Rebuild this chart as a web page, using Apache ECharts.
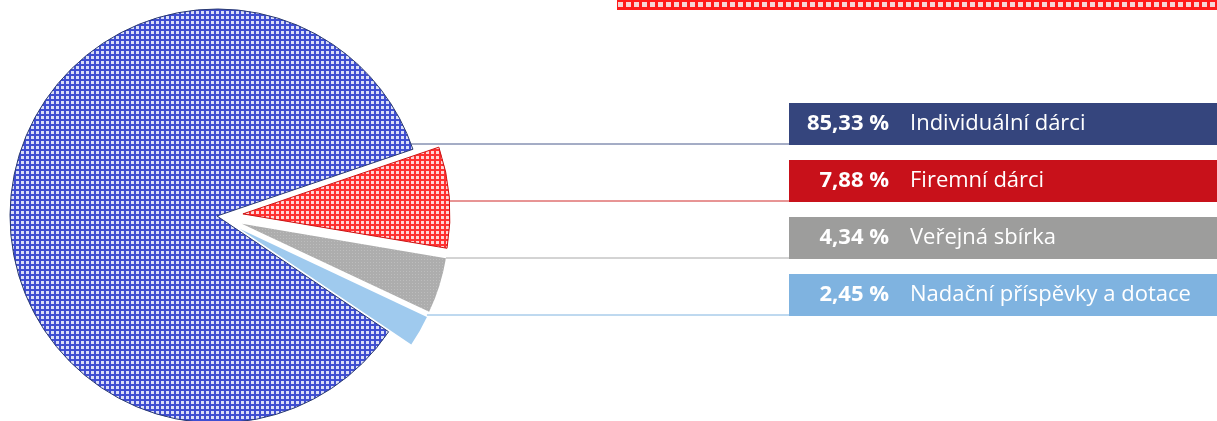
<!DOCTYPE html>
<html>
<head>
<meta charset="utf-8">
<style>
  html, body { margin: 0; padding: 0; background: #fff; }
  #chart { width: 1217px; height: 421px; }
</style>
<script src="https://cdn.jsdelivr.net/npm/echarts@6/dist/echarts.min.js"></script>
</head>
<body>
<div id="chart"></div>
<script>
// data
const categories = ['Individuální dárci', 'Firemní dárci', 'Veřejná sbírka', 'Nadační příspěvky a dotace'];
const values = [85.33, 7.88, 4.34, 2.45];
const exploded = [false, true, true, true];

// colours
const boxColors = ['#35457d', '#c8111a', '#9d9d9c', '#7fb3e0'];
const lineColors = ['#4a5a8c', '#d02a2a', '#a8a8a8', '#7fb3e0'];
const borderColors = ['#2a3a70', '#cc1111', 'transparent', 'transparent'];

// pie geometry (px)
const CX = 217, CY = 216, R = 207, OFFSET = 26, START = 326;
// label boxes
const BOX_X = 789, BOX_TOP = 103, BOX_STEP = 57, BOX_H = 42, BOX_W = 428;
const PCT_W = 100; // right edge of the percentage inside the box
const FONT = '"Open Sans", sans-serif';
const FONT_SIZE = 22;

// woven texture tiles
function makeTile(w, h, base, hole, hx, hy, hw, hh) {
  const c = document.createElement('canvas');
  c.width = w; c.height = h;
  const g = c.getContext('2d');
  g.fillStyle = base; g.fillRect(0, 0, w, h);
  g.fillStyle = hole; g.fillRect(hx, hy, hw, hh);
  return c;
}
const fills = [
  { image: makeTile(5, 5, '#3f4ed2', '#d9ddf8', 1, 1, 3, 3), repeat: 'repeat' },
  { image: makeTile(5, 5, '#ff3030', '#ffd4d4', 1, 1, 3, 3), repeat: 'repeat' },
  { image: makeTile(3, 3, '#adadad', '#bdbdbd', 1, 1, 1, 1), repeat: 'repeat' },
  '#9fcaee'
];
const barFill = { image: makeTile(8, 8, '#ff1c1c', '#f6d6d6', 2, 2, 5, 5), repeat: 'repeat' };

function fmt(v) {
  return v.toFixed(2).replace('.', ',') + ' %';
}

// measure text so the percentages can be right aligned
const measureCtx = document.createElement('canvas').getContext('2d');
function textWidth(str, weight) {
  measureCtx.font = weight + ' ' + FONT_SIZE + 'px ' + FONT;
  return measureCtx.measureText(str).width;
}

function sliceAngles(i) {
  const total = values.reduce((a, b) => a + b, 0);
  let acc = 0;
  for (let k = 0; k < i; k++) acc += values[k];
  const a0 = START - acc / total * 360;
  const a1 = a0 - values[i] / total * 360;
  return [a0, a1];
}

function sliceCenter(i) {
  const [a0, a1] = sliceAngles(i);
  const mid = (a0 + a1) / 2 * Math.PI / 180;
  const off = exploded[i] ? OFFSET : 0;
  return [CX + off * Math.cos(mid), CY - off * Math.sin(mid)];
}

// x where the horizontal leader line at y meets the slice's arc
function lineStartX(i, y) {
  const [a0, a1] = sliceAngles(i);
  const [sx, sy] = sliceCenter(i);
  let a = Math.asin(Math.max(-1, Math.min(1, -(y - sy) / R))) * 180 / Math.PI;
  while (a < a1) a += 360;
  while (a > a1 + 360) a -= 360;
  if (a > a0) {
    a = (a - a0) < (a1 + 360 - a) ? a0 : a1;
  }
  return sx + R * Math.cos(a * Math.PI / 180);
}

const rich = {
  n: { padding: [0, 0, 0, 21], fontFamily: FONT, fontSize: FONT_SIZE, color: '#fff', lineHeight: BOX_H }
};
values.forEach((v, i) => {
  const w = textWidth(fmt(v), 'bold');
  rich['p' + i] = {
    padding: [0, 0, 0, Math.max(0, PCT_W - w)],
    fontFamily: FONT, fontWeight: 'bold', fontSize: FONT_SIZE, color: '#fff', lineHeight: BOX_H
  };
});

// one pie per slice so exploded slices keep their labels in place
const series = categories.map((_, k) => ({
  type: 'pie',
  center: sliceCenter(k),
  radius: [0, R],
  startAngle: START,
  clockwise: true,
  avoidLabelOverlap: false,
  silent: true,
  emphasis: { disabled: true },
  label: {
    show: true,
    position: 'outside',
    formatter: p => '{p' + p.dataIndex + '|' + fmt(p.value) + '}{n|' + p.name + '}',
    width: BOX_W,
    height: BOX_H,
    lineHeight: BOX_H,
    padding: 0,
    align: 'left',
    rich: rich
  },
  labelLine: { show: true, lineStyle: { width: 1 } },
  labelLayout: params => {
    const i = params.dataIndex;
    const top = BOX_TOP + i * BOX_STEP;
    const ly = top + BOX_H - 1;
    const sx = lineStartX(i, ly);
    return {
      x: BOX_X,
      y: top,
      align: 'left',
      verticalAlign: 'top',
      labelLinePoints: [[sx, ly], [BOX_X, ly], [BOX_X, ly]]
    };
  },
  data: categories.map((name, i) => i === k ? {
    name: name,
    value: values[i],
    itemStyle: { color: fills[i], borderColor: borderColors[i], borderWidth: 1 },
    label: { backgroundColor: boxColors[i] },
    labelLine: { lineStyle: { color: lineColors[i] } }
  } : {
    name: name,
    value: values[i],
    itemStyle: { color: 'transparent', borderWidth: 0 },
    label: { show: false },
    labelLine: { show: false }
  })
}));

const chart = echarts.init(document.getElementById('chart'));

const option = {
  animation: false,
  graphic: [
    {
      type: 'rect',
      shape: { x: 617, y: 0, width: 600, height: 10 },
      style: { fill: barFill }
    }
  ],
  series: series
};

chart.setOption(option);
</script>
</body>
</html>
